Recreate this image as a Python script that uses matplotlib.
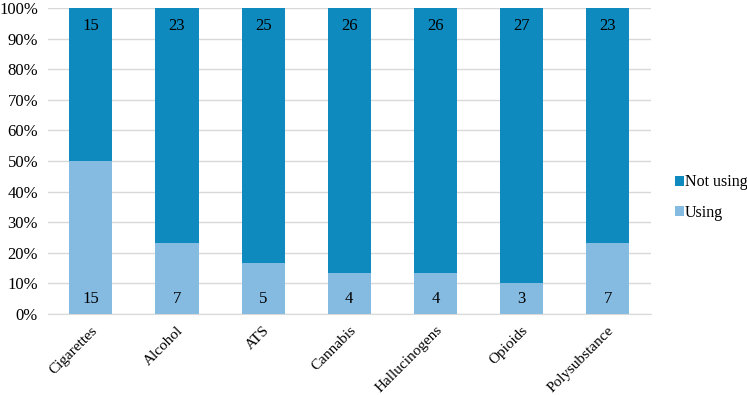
import matplotlib.pyplot as plt
import numpy as np

plt.rcParams['font.family'] = ['Liberation Serif', 'DejaVu Serif']

categories = ["Cigarettes", "Alcohol", "ATS", "Cannabis", "Hallucinogens", "Opioids", "Polysubstance"]
using = [15, 7, 5, 4, 4, 3, 7]
not_using = [15, 23, 25, 26, 26, 27, 23]

USING_COLOR = "#86BBE1"
NOT_USING_COLOR = "#0E8ABF"
FS = 12

u = np.array(using, dtype=float)
n = np.array(not_using, dtype=float)
total = u + n
u_pct = u / total * 100
n_pct = n / total * 100

fig = plt.figure(figsize=(7.47, 3.95), dpi=100)
ax = fig.add_axes([0.064, 0.205, 0.807, 0.775])

x = np.arange(len(categories))
ax.bar(x, u_pct, width=0.5, color=USING_COLOR, label="Using", zorder=3)
ax.bar(x, n_pct, width=0.5, bottom=u_pct, color=NOT_USING_COLOR, label="Not using", zorder=3)

# value labels
for i in range(len(categories)):
    ax.text(x[i], 5, str(using[i]), ha="center", va="center", fontsize=FS, zorder=4)
    ax.text(x[i], 94, str(not_using[i]), ha="center", va="center", fontsize=FS, zorder=4)

ax.set_xlim(-0.5, len(categories) - 0.5)
ax.set_ylim(0, 100)
ax.set_yticks(np.arange(0, 101, 10))
ax.set_yticklabels([f"{v}%" for v in range(0, 101, 10)], fontsize=FS)
ax.set_xticks(x)
ax.set_xticklabels(categories, rotation=45, ha="right", rotation_mode="anchor", fontsize=11)

ax.grid(axis="y", color="#D9D9D9", linewidth=1, zorder=0)
for s in ["top", "right", "left"]:
    ax.spines[s].set_visible(False)
ax.spines["bottom"].set_color("#D9D9D9")
ax.tick_params(axis="y", length=0, pad=7)
ax.tick_params(axis="x", length=0, pad=7)

handles, labels = ax.get_legend_handles_labels()
fig.legend(handles[::-1], labels[::-1], loc="center left", bbox_to_anchor=(0.903, 0.5),
           frameon=False, fontsize=11.5, handlelength=0.6, handleheight=0.6,
           handletextpad=0.05, labelspacing=0.9, borderpad=0, borderaxespad=0)

fig.savefig("out.png", dpi=100)
